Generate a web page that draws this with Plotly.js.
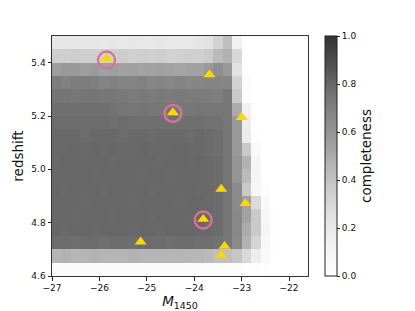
<!DOCTYPE html>
<html>
<head>
<meta charset="utf-8">
<script src="https://cdn.plot.ly/plotly-3.0.1.min.js"></script>
<style>html,body{margin:0;padding:0;background:#fff;}#chart{width:415px;height:311px;}</style>
</head>
<body>
<div id="chart"></div>
<script>
// Bin centres (M1450 bins of 0.2 mag, redshift bins of 0.05)
const magBins = [-26.9,-26.7,-26.5,-26.3,-26.1,-25.9,-25.7,-25.5,-25.3,-25.1,-24.9,-24.7,-24.5,-24.3,-24.1,-23.9,-23.7,-23.5,-23.3,-23.1,-22.9,-22.7,-22.5,-22.3,-22.1,-21.9,-21.7];
const zBins = [4.625,4.675,4.725,4.775,4.825,4.875,4.925,4.975,5.025,5.075,5.125,5.175,5.225,5.275,5.325,5.375,5.425,5.475];

// completeness per redshift row (low z to high z), one value per magnitude bin
const completeness = [
  [0.04,0.04,0.04,0.04,0.04,0.04,0.04,0.04,0.04,0.04,0.04,0.04,0.04,0.04,0.04,0.04,0.03,0.03,0.03,0.03,0.02,0.02,0.01,0,0,0,0],
  [0.46,0.47,0.46,0.46,0.47,0.46,0.46,0.46,0.47,0.46,0.46,0.46,0.46,0.46,0.45,0.45,0.44,0.42,0.42,0.39,0.30,0.17,0.06,0,0,0,0],
  [0.78,0.78,0.77,0.78,0.78,0.77,0.78,0.78,0.77,0.78,0.78,0.78,0.77,0.78,0.78,0.77,0.77,0.76,0.74,0.65,0.47,0.32,0.08,0.02,0,0,0],
  [0.80,0.79,0.80,0.80,0.79,0.80,0.80,0.80,0.79,0.80,0.80,0.79,0.80,0.80,0.80,0.79,0.79,0.78,0.75,0.66,0.50,0.38,0.10,0.02,0,0,0],
  [0.80,0.80,0.79,0.80,0.80,0.80,0.79,0.80,0.80,0.80,0.79,0.80,0.80,0.80,0.79,0.80,0.79,0.78,0.75,0.66,0.54,0.38,0.08,0.01,0,0,0],
  [0.80,0.80,0.80,0.79,0.80,0.80,0.80,0.80,0.79,0.80,0.80,0.80,0.80,0.79,0.80,0.80,0.79,0.78,0.75,0.65,0.55,0.28,0.06,0,0,0,0],
  [0.80,0.79,0.80,0.80,0.80,0.79,0.80,0.80,0.80,0.80,0.79,0.80,0.80,0.80,0.80,0.79,0.79,0.78,0.75,0.65,0.38,0.08,0.02,0,0,0,0],
  [0.80,0.80,0.80,0.80,0.79,0.80,0.80,0.80,0.80,0.79,0.80,0.80,0.79,0.80,0.80,0.80,0.79,0.78,0.75,0.60,0.44,0.10,0,0,0,0,0],
  [0.79,0.80,0.80,0.80,0.80,0.80,0.79,0.80,0.80,0.80,0.80,0.79,0.80,0.80,0.79,0.80,0.79,0.78,0.75,0.60,0.47,0.10,0,0,0,0,0],
  [0.79,0.79,0.80,0.79,0.80,0.79,0.80,0.79,0.79,0.80,0.79,0.79,0.79,0.80,0.79,0.79,0.78,0.77,0.75,0.58,0.38,0.06,0,0,0,0,0],
  [0.79,0.79,0.79,0.78,0.79,0.79,0.79,0.78,0.79,0.79,0.78,0.79,0.79,0.79,0.78,0.79,0.78,0.77,0.75,0.58,0.18,0.02,0,0,0,0,0],
  [0.78,0.78,0.78,0.78,0.78,0.78,0.77,0.78,0.77,0.77,0.77,0.77,0.77,0.77,0.77,0.77,0.76,0.76,0.74,0.58,0.17,0,0,0,0,0,0],
  [0.77,0.77,0.77,0.77,0.77,0.77,0.76,0.75,0.74,0.75,0.74,0.74,0.75,0.74,0.74,0.75,0.74,0.74,0.74,0.50,0.14,0,0,0,0,0,0],
  [0.75,0.75,0.74,0.75,0.75,0.74,0.74,0.73,0.72,0.73,0.72,0.73,0.72,0.73,0.72,0.72,0.72,0.70,0.74,0.38,0.03,0,0,0,0,0,0],
  [0.71,0.69,0.71,0.71,0.70,0.68,0.69,0.68,0.68,0.69,0.67,0.68,0.67,0.68,0.67,0.67,0.68,0.68,0.67,0.33,0.04,0,0,0,0,0,0],
  [0.56,0.58,0.58,0.56,0.57,0.55,0.56,0.54,0.55,0.54,0.54,0.55,0.54,0.53,0.54,0.54,0.58,0.63,0.58,0.24,0,0,0,0,0,0,0],
  [0.35,0.35,0.36,0.35,0.35,0.34,0.35,0.36,0.34,0.35,0.34,0.35,0.33,0.34,0.35,0.34,0.37,0.44,0.47,0.30,0,0,0,0,0,0,0],
  [0.21,0.21,0.21,0.21,0.21,0.20,0.21,0.20,0.21,0.20,0.20,0.21,0.20,0.20,0.20,0.22,0.24,0.33,0.42,0.14,0,0,0,0,0,0,0]
];

// Quasars (yellow triangles)
const qsoMag = [-25.85,-23.68,-24.45,-23.00,-23.43,-22.92,-23.81,-25.13,-23.36,-23.43];
const qsoZ   = [5.415,5.355,5.213,5.195,4.926,4.872,4.813,4.728,4.712,4.678];
// Highlighted quasars (pink circles)
const hlMag = [-25.85,-24.45,-23.81];
const hlZ   = [5.41,5.21,4.81];

const colorbarTicks = [0,0.2,0.4,0.6,0.8,1.0];
const xTicks = [-27,-26,-25,-24,-23,-22];
const yTicks = [4.6,4.8,5.0,5.2,5.4];

const greys = [[0,'rgb(255,255,255)'],[0.125,'rgb(243,243,243)'],[0.25,'rgb(225,225,225)'],[0.375,'rgb(202,202,202)'],[0.5,'rgb(171,171,171)'],[0.625,'rgb(143,143,143)'],[0.75,'rgb(117,117,117)'],[0.875,'rgb(81,81,81)'],[1,'rgb(51,51,51)']];

const FONT = 'DejaVu Sans, sans-serif';
const data = [
  {
    type: 'heatmap', x: magBins, y: zBins, z: completeness,
    zmin: 0, zmax: 1, colorscale: greys, hoverinfo: 'skip',
    colorbar: {
      x: 1.066, xanchor: 'left', xpad: 0, y: 0.5, yanchor: 'middle', ypad: 0,
      len: 1.0, lenmode: 'fraction', thickness: 12,
      outlinewidth: 1, outlinecolor: '#222',
      ticks: 'outside', ticklen: 3, tickwidth: 1, tickcolor: '#222',
      tickvals: colorbarTicks, tickformat: '.1f',
      tickfont: {family: FONT, size: 9, color: '#111'},
      title: {text: 'completeness', side: 'right', font: {family: FONT, size: 13.5, color: '#111'}}
    }
  },
  {
    type: 'scatter', mode: 'markers', x: qsoMag, y: qsoZ, hoverinfo: 'skip',
    marker: {symbol: 'triangle-up', size: 10.5, color: '#ffd700', line: {width: 0}},
    showlegend: false
  },
  {
    type: 'scatter', mode: 'markers', x: hlMag, y: hlZ, hoverinfo: 'skip',
    marker: {symbol: 'circle-open', size: 17, color: '#d9729a', line: {width: 2.4, color: '#d9729a'}},
    showlegend: false
  }
];

const layout = {
  width: 415, height: 311,
  margin: {l: 52, r: 107, t: 36, b: 35, pad: 0},
  paper_bgcolor: '#fff', plot_bgcolor: '#fff',
  font: {family: FONT, color: '#111'},
  showlegend: false,
  xaxis: {
    range: [-27, -21.6], tickvals: xTicks, ticks: 'outside', ticklen: 3.5, tickwidth: 1, tickcolor: '#222',
    showline: true, mirror: true, linecolor: '#333', linewidth: 1, showgrid: false, zeroline: false,
    tickfont: {family: FONT, size: 9, color: '#111'},
    title: {text: '<i>M</i><sub>1450</sub>', font: {family: FONT, size: 13.5, color: '#111'}, standoff: 2}
  },
  yaxis: {
    range: [4.6, 5.5], tickvals: yTicks, tickformat: '.1f', ticks: 'outside', ticklen: 3.5, tickwidth: 1, tickcolor: '#222',
    showline: true, mirror: true, linecolor: '#333', linewidth: 1, showgrid: false, zeroline: false,
    tickfont: {family: FONT, size: 9, color: '#111'},
    title: {text: 'redshift', font: {family: FONT, size: 13.5, color: '#111'}, standoff: 4}
  }
};

Plotly.newPlot('chart', data, layout, {staticPlot: true, displayModeBar: false});
</script>
</body>
</html>
